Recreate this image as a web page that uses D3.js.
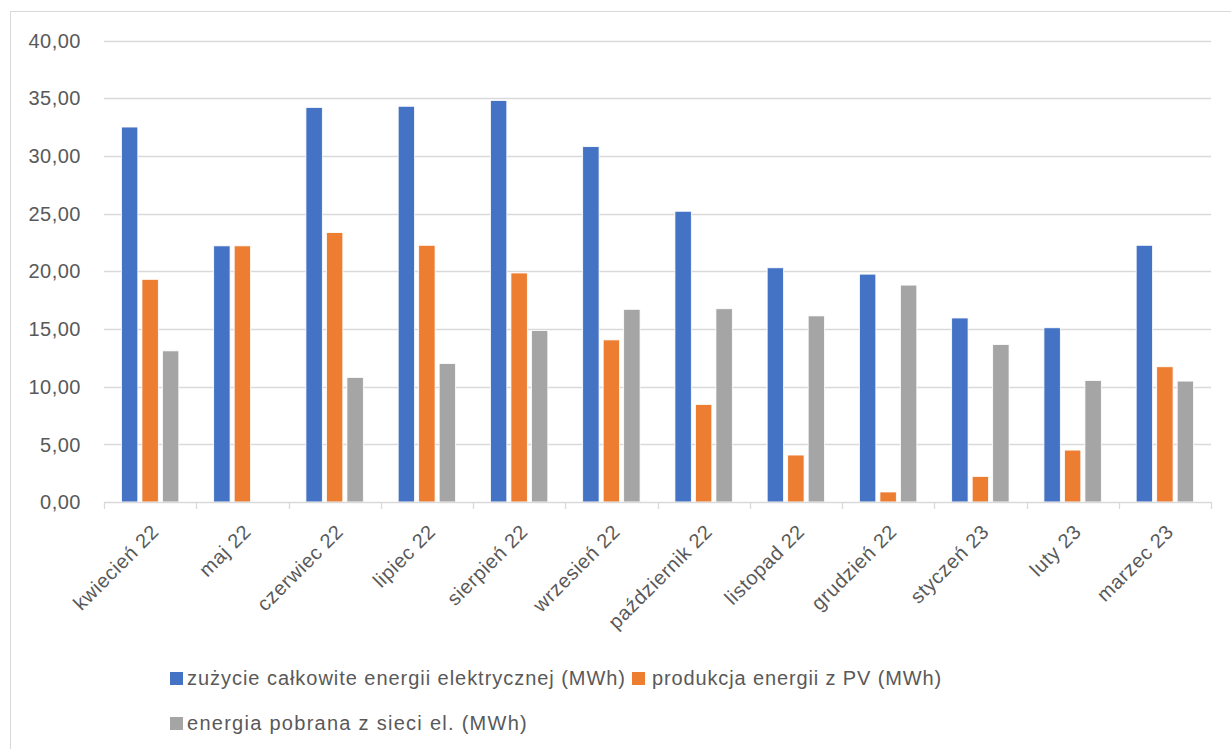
<!DOCTYPE html>
<html><head><meta charset="utf-8">
<script src="https://cdn.jsdelivr.net/npm/d3@7"></script>
<style>body{margin:0;background:#fff;}svg{display:block;font-family:"Liberation Sans",Arial,sans-serif;}</style>
</head><body><svg id="c" width="1231" height="749"></svg>
<script>
const categories = ["kwiecień 22","maj 22","czerwiec 22","lipiec 22","sierpień 22","wrzesień 22","październik 22","listopad 22","grudzień 22","styczeń 23","luty 23","marzec 23"];
const seriesNames = ["zużycie całkowite energii elektrycznej (MWh)","produkcja energii z PV (MWh)","energia pobrana z sieci el. (MWh)"];
const consumption = [32.5,22.2,34.2,34.3,34.8,30.8,25.2,20.3,19.75,15.95,15.1,22.25];
const pvProduction = [19.3,22.2,23.35,22.25,19.85,14.05,8.45,4.07,0.87,2.22,4.5,11.72];
const gridDraw = [13.1,0,10.8,12.0,14.86,16.7,16.75,16.13,18.8,13.65,10.53,10.48];
const yTicks = [0,5,10,15,20,25,30,35,40];
const colors = ["#4472C4","#ED7D31","#A5A5A5"];
const series = [consumption, pvProduction, gridDraw];

const svg = d3.select("#c");
svg.append("rect").attr("x",10.5).attr("y",11.5).attr("width",1230).attr("height",800)
  .attr("fill","#fff").attr("stroke","#d9d9d9").attr("stroke-width",1);

const L=104, R=1211, T=40.5, B=502;
const FS=20, TXT="#595959";
const x = d3.scaleBand().domain(categories).range([L,R]).paddingInner(0).paddingOuter(0);
const y = d3.scaleLinear().domain([0,40]).range([B,T]);
const fmt = v => d3.format(".2f")(v).replace(".",",");

// grid
svg.append("g").selectAll("line").data(yTicks.filter(d=>d>0)).join("line")
  .attr("x1",L).attr("x2",R).attr("y1",d=>Math.round(y(d))+0.5).attr("y2",d=>Math.round(y(d))+0.5)
  .attr("stroke","#d9d9d9").attr("stroke-width",1.3);

// y labels
svg.append("g").selectAll("text").data(yTicks).join("text")
  .attr("x",81).attr("y",d=>y(d)).attr("dy","0.36em").attr("text-anchor","end")
  .attr("fill",TXT).attr("font-size",FS).attr("letter-spacing",0.5).text(fmt);

// bars
const inner = d3.scaleBand().domain([0,1,2]).range([0,x.bandwidth()]).paddingInner(0.2).paddingOuter(0.85);
series.forEach((s,i)=>{
  svg.append("g").selectAll("rect").data(s.map((v,j)=>({v,c:categories[j]})).filter(d=>d.v>0)).join("rect")
    .attr("x",d=>x(d.c)+inner(i)).attr("width",inner.bandwidth())
    .attr("y",d=>y(d.v)).attr("height",d=>B-y(d.v))
    .attr("fill",colors[i]).attr("stroke","#fff").attr("stroke-width",0.8);
});

// x axis
const xa = svg.append("g").attr("transform",`translate(0,${B})`);
xa.append("line").attr("x1",L).attr("x2",R).attr("y1",0.5).attr("y2",0.5).attr("stroke","#d9d9d9").attr("stroke-width",1.3);
const tickPos = categories.map(c=>x(c)).concat([R]);
xa.selectAll("line.t").data(tickPos).join("line").attr("class","t")
  .attr("x1",d=>Math.round(d)+0.5).attr("x2",d=>Math.round(d)+0.5).attr("y1",0).attr("y2",7)
  .attr("stroke","#d9d9d9").attr("stroke-width",1.3);
svg.append("g").selectAll("text").data(categories).join("text")
  .attr("transform",d=>`translate(${x(d)+x.bandwidth()/2+10},${533}) rotate(-45)`)
  .attr("text-anchor","end").attr("fill",TXT).attr("font-size",FS).attr("letter-spacing",0.6).text(d=>d);

// legend
const lg = svg.append("g");
const targetW = [439, 290, 341];
function item(px,py,i,off){
  lg.append("rect").attr("x",px).attr("y",py-13).attr("width",13).attr("height",13).attr("fill",colors[i]);
  const t = lg.append("text").attr("x",px+off).attr("y",py).attr("fill",TXT).attr("font-size",FS).text(seriesNames[i]);
  const w = t.node().getComputedTextLength();
  const n = seriesNames[i].length;
  t.attr("letter-spacing", Math.max(0,(targetW[i] - w)/n));
  return t.node().getComputedTextLength();
}
item(170,685,0,17);
item(632,685,1,20);
item(170,730,2,17);
</script></body></html>
